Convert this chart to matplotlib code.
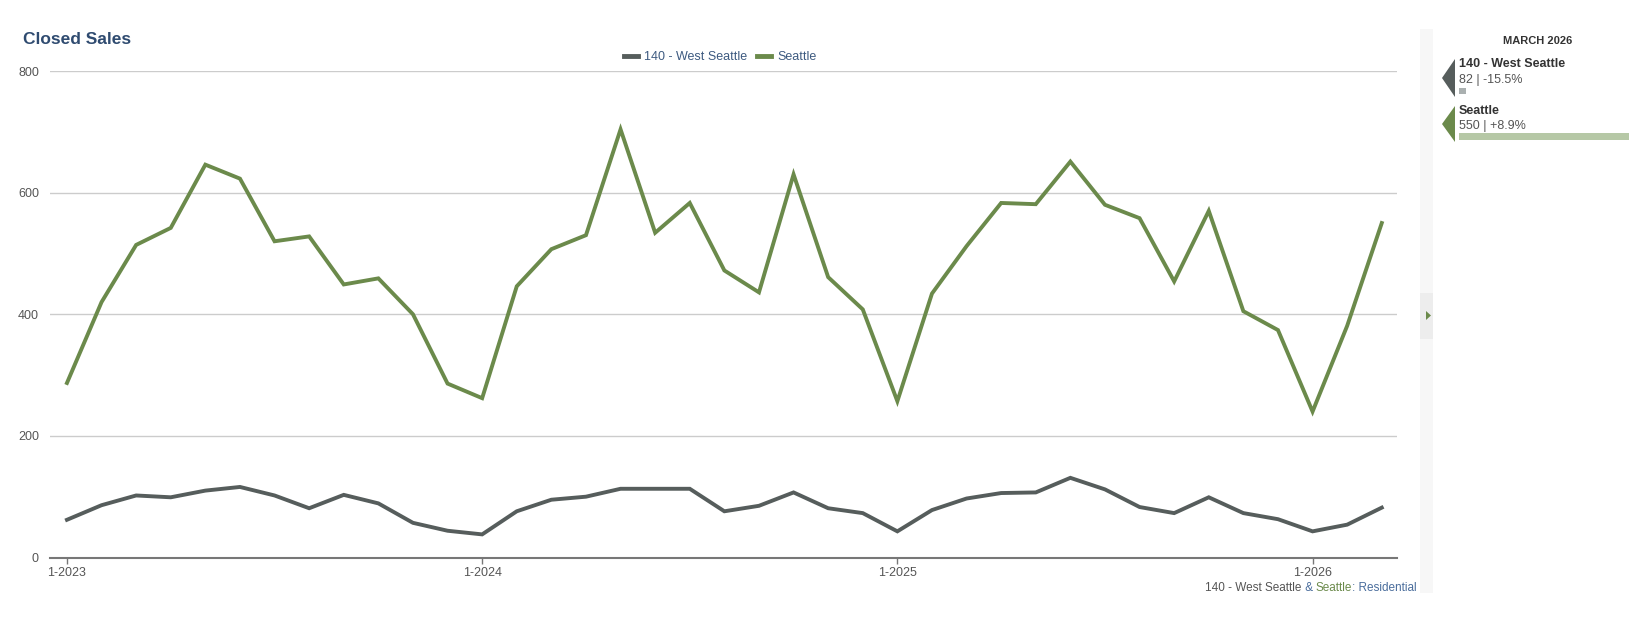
import matplotlib
matplotlib.use("Agg")
import matplotlib.pyplot as plt
from matplotlib.patches import Polygon, Rectangle

plt.rcParams['font.family'] = ['Liberation Sans', 'DejaVu Sans']

# monthly closed sales, Jan 2023 .. Mar 2026
months = list(range(39))
west_seattle = [62, 86, 102, 99, 110, 116, 102, 81, 103, 89, 57, 44, 38,
                76, 95, 100, 113, 113, 113, 76, 85, 107, 81, 73, 43, 78,
                97, 106, 107, 131, 112, 83, 73, 99, 73, 63, 43, 54, 82]
seattle = [287, 420, 514, 542, 646, 623, 520, 528, 449, 459, 400, 286, 262,
           446, 507, 530, 704, 534, 583, 472, 436, 630, 461, 408, 257, 434,
           512, 583, 581, 651, 580, 558, 454, 570, 405, 374, 240, 381, 550]
tick_pos = [0, 12, 24, 36]
tick_labels = ["1-2023", "1-2024", "1-2025", "1-2026"]
series_names = ["140 - West Seattle", "Seattle"]
last_vals = ["82 | -15.5%", "550 | +8.9%"]

GRAY = "#565d5c"
GREEN = "#6b8a4b"
NAVY = "#2f4b70"
W, H = 1638, 624

fig = plt.figure(figsize=(W / 100, H / 100), dpi=100)

# main chart
ax = fig.add_axes([50 / W, 1 - 557.5 / H, 1347 / W, 486.5 / H])
ax.plot(months, west_seattle, color=GRAY, lw=2.8, label=series_names[0],
        solid_joinstyle="miter", zorder=3)
ax.plot(months, seattle, color=GREEN, lw=2.8, label=series_names[1],
        solid_joinstyle="miter", zorder=3)
ax.set_xlim(-0.49, 38.44)
ax.set_ylim(0, 800)
ax.set_yticks([0, 200, 400, 600, 800])
ax.set_xticks(tick_pos)
ax.set_xticklabels(tick_labels)
ax.grid(axis="y", color="#cccccc", lw=1)
ax.set_axisbelow(True)
for s in ["top", "right", "left"]:
    ax.spines[s].set_visible(False)
ax.spines["bottom"].set_color("#777777")
ax.spines["bottom"].set_linewidth(1.5)
ax.tick_params(axis="y", length=0, pad=8, labelsize=9, labelcolor="#555555")
ax.tick_params(axis="x", length=4, width=1, color="#777777", pad=3,
               labelsize=9, labelcolor="#555555")

leg = ax.legend(loc="center", bbox_to_anchor=(720 / W, 1 - 57 / H),
                bbox_transform=fig.transFigure, ncol=2, frameon=False,
                handlelength=1.1, handletextpad=0.5, columnspacing=0.8,
                fontsize=9, labelcolor="#3d5a80")
for ln in leg.get_lines():
    ln.set_linewidth(3.5)

# overlay in pixel coordinates for title and side panel
ov = fig.add_axes([0, 0, 1, 1], facecolor="none")
ov.set_xlim(0, W)
ov.set_ylim(H, 0)
ov.axis("off")

ov.text(23, 39, "Closed Sales", fontsize=12.5, fontweight="bold",
        color=NAVY, va="center", ha="left")

# collapsed side strip
ov.add_patch(Rectangle((1420, 29), 13, 564, color="#f7f7f7", lw=0))
ov.add_patch(Rectangle((1420, 293), 13, 46, color="#ededed", lw=0))
ov.add_patch(Polygon([(1426, 311), (1426, 320), (1431, 315.5)], color=GREEN, lw=0))

# side panel with latest month values
ov.text(1538, 41, "MARCH 2026", fontsize=8, fontweight="bold", color="#333333",
        ha="center", va="center")
ov.add_patch(Polygon([(1442, 78), (1455, 59), (1455, 97)], color=GRAY, lw=0))
ov.text(1459, 64, series_names[0], fontsize=9, fontweight="bold", color="#333333",
        va="center")
ov.text(1459, 80, last_vals[0], fontsize=9, color="#555555", va="center")
ov.add_patch(Rectangle((1459, 88), 7, 6, color="#aab0b0", lw=0))

ov.add_patch(Polygon([(1442, 124), (1455, 106), (1455, 142)], color=GREEN, lw=0))
ov.text(1459, 111, series_names[1], fontsize=9, fontweight="bold", color="#333333",
        va="center")
ov.text(1459, 126, last_vals[1], fontsize=9, color="#555555", va="center")
ov.add_patch(Rectangle((1459, 133), 170, 7, color="#b6c8a6", lw=0))

# multi-coloured source line, laid out right to left
pieces = [(": Residential", "#4a6d9c"), ("Seattle", GREEN), (" & ", "#4a6d9c"),
          ("140 - West Seattle", "#555555")]
fig.canvas.draw()
rend = fig.canvas.get_renderer()
x = 1417
for txt, col in pieces:
    t = ov.text(x, 588, txt, fontsize=8.5, color=col, ha="right", va="center")
    bb = t.get_window_extent(renderer=rend)
    x -= bb.width

fig.savefig("out.png", dpi=100)
